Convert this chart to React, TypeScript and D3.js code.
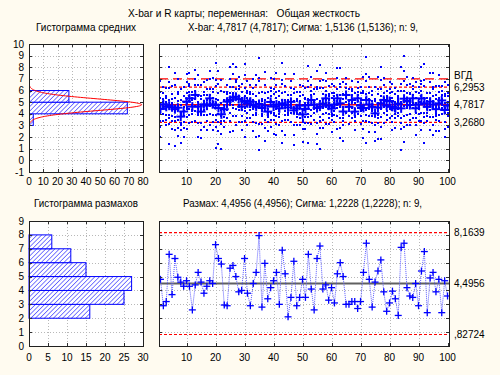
import React from "react";
import * as d3 from "d3";

// ---------- texts ----------
const TITLE = "X-bar и R карты; переменная:   Общая жесткость";
const SUB_HIST_MEAN = "Гистограмма средних";
const SUB_XBAR = "X-bar: 4,7817 (4,7817); Сигма: 1,5136 (1,5136); n: 9,";
const SUB_HIST_RANGE = "Гистограмма размахов";
const SUB_RANGE = "Размах: 4,4956 (4,4956); Сигма: 1,2228 (1,2228); n: 9,";

// ---------- statistics ----------
const N_PER_SAMPLE = 9;
const XBAR = 4.7817;
const SIGMA_X = 1.5136;
const UCL_X = 6.2953;
const LCL_X = 3.268;
const SPEC_UPPER = 7.0;
const RBAR = 4.4956;
const UCL_R = 8.1639;
const LCL_R = 0.82724;

const XBAR_LABELS = [
  { v: SPEC_UPPER, t: "ВГД", dy: -3 },
  { v: UCL_X, t: "6,2953", dy: 0.5 },
  { v: XBAR, t: "4,7817", dy: 0 },
  { v: LCL_X, t: "3,2680", dy: 0 },
];
const R_LABELS = [
  { v: UCL_R, t: "8,1639" },
  { v: RBAR, t: "4,4956" },
  { v: LCL_R, t: ",82724" },
];

// ---------- histogram of means ----------
const MEAN_BIN_START = [3, 4, 5];
const MEAN_BIN_COUNT = [3, 69, 28];
// ---------- histogram of ranges ----------
const RANGE_BIN_START = [2, 3, 4, 5, 6, 7];
const RANGE_BIN_COUNT = [16, 25, 27, 15, 11, 6];

// ---------- sample means (100 samples) ----------
const MEANS = [
  4.42, 4.82, 4.6, 4.7, 4.56, 4.4, 4.53, 3.76, 4.2, 5.05,
  5.33, 4.62, 5.62, 4.62, 4.19, 4.82, 4.7, 5.33, 4.82, 4.75,
  4.5, 3.96, 4.4, 5.05, 5.19, 5.39, 5.47, 5.27, 4.62, 5.1,
  4.9, 5.05, 4.76, 4.6, 4.85, 4.5, 4.7, 4.19, 5.02, 4.62,
  4.8, 4.47, 4.9, 4.76, 4.55, 5.03, 4.3, 4.47, 4.7, 3.95,
  4.42, 4.75, 5.19, 4.8, 4.5, 4.62, 4.85, 5.33, 4.7, 4.45,
  4.8, 5.33, 4.9, 4.2, 5.62, 4.6, 5.19, 4.19, 5.33, 4.7,
  4.5, 5.19, 4.8, 4.6, 4.04, 4.53, 4.9, 5.19, 4.7, 5.1,
  4.6, 4.47, 4.85, 4.47, 5.3, 5.1, 4.75, 5.33, 4.47, 4.8,
  5.33, 4.9, 4.6, 5.05, 4.8, 4.4, 4.9, 5.15, 4.33, 4.7,
];

// ---------- sample ranges (100 samples) ----------
const RANGES = [
  4.8, 2.9, 3.2, 6.6, 3.7, 6.3, 4.95, 4.6, 4.3, 4.7,
  4.3, 2.6, 4.4, 5.3, 4.6, 3.8, 4.3, 4.7, 4.5, 7.3,
  6.3, 5.9, 2.95, 2.9, 5.6, 5.8, 5.0, 3.9, 4.0, 6.3,
  3.8, 2.9, 4.5, 5.3, 7.95, 2.8, 5.95, 3.4, 4.2, 4.7,
  5.3, 3.0, 6.9, 5.2, 2.1, 3.5, 6.1, 2.9, 3.5, 4.8,
  3.5, 6.6, 4.1, 2.6, 6.3, 7.2, 4.1, 4.4, 3.3, 4.2,
  3.1, 5.2, 6.0, 5.0, 3.0, 3.0, 3.2, 3.2, 2.7, 3.2,
  5.3, 7.4, 4.8, 2.8, 4.6, 5.4, 6.2, 3.9, 2.5, 3.1,
  3.95, 3.4, 2.2, 7.1, 7.4, 4.2, 3.6, 3.5, 4.5, 2.9,
  5.4, 6.8, 2.4, 4.9, 5.3, 3.9, 4.8, 2.4, 4.7, 3.6,
];

// ---------- individual observations, 9 per sample ----------
const OBS = [
  "2.0 6.8 2.9 3.4 4.0 4.4 4.9 5.4 5.9",
  "3.4 6.3 4.0 4.4 4.6 4.8 5.0 5.3 5.8",
  "3.0 6.2 3.5 3.9 4.4 4.7 5.0 5.4 5.5",
  "1.4 8.0 3.1 3.6 3.9 4.8 5.2 6.2 6.7",
  "2.7 6.4 3.4 3.8 4.3 4.6 4.9 5.3 5.7",
  "1.2 7.5 2.6 3.4 3.7 4.2 4.7 5.4 6.5",
  "2.1 7.0 2.8 3.5 4.3 4.7 5.1 5.7 5.9",
  "1.5 6.1 2.6 3.0 3.2 3.9 4.1 4.8 5.2",
  "2.0 6.3 2.8 3.3 3.8 4.2 4.6 5.0 5.5",
  "2.7 7.4 3.7 4.4 4.6 4.9 5.3 5.8 6.7",
  "3.2 7.5 3.9 4.4 5.1 5.5 5.9 6.4 6.6",
  "3.3 5.9 4.0 4.2 4.3 4.7 4.8 5.2 5.4",
  "3.4 7.8 4.2 4.7 5.3 5.6 6.0 6.5 7.0",
  "2.0 7.3 3.2 3.9 4.1 4.5 5.0 5.5 6.5",
  "1.9 6.5 2.6 3.2 4.0 4.3 4.8 5.3 5.5",
  "2.9 6.7 3.9 4.2 4.3 4.9 5.1 5.6 5.9",
  "2.6 6.9 3.4 3.9 4.4 4.8 5.2 5.6 6.1",
  "3.0 7.7 4.0 4.7 4.9 5.2 5.6 6.1 7.0",
  "2.6 7.1 3.3 3.9 4.6 5.0 5.4 5.9 6.1",
  "1.1 8.4 2.9 3.5 3.9 4.9 5.3 6.4 6.9",
  "1.4 7.7 2.5 3.3 4.0 4.5 5.2 5.8 6.6",
  "1.0 6.9 2.3 3.1 3.4 3.8 4.3 4.9 6.0",
  "2.9 5.9 3.4 3.7 4.3 4.5 4.8 5.1 5.2",
  "3.6 6.5 4.3 4.6 4.7 5.1 5.3 5.7 5.9",
  "2.4 8.0 3.4 4.1 4.8 5.2 5.8 6.3 7.0",
  "2.5 8.3 3.8 4.5 4.8 5.2 5.8 6.3 7.4",
  "3.0 8.0 3.8 4.4 5.3 5.7 6.1 6.7 6.9",
  "3.3 7.2 4.3 4.6 4.8 5.3 5.5 6.1 6.4",
  "2.6 6.6 3.3 3.8 4.3 4.6 5.0 5.4 5.9",
  "2.0 8.3 3.4 4.2 4.5 5.0 5.5 6.2 7.3",
  "3.0 6.8 3.6 4.1 4.7 5.0 5.4 5.8 6.0",
  "3.6 6.5 4.3 4.6 4.7 5.1 5.3 5.7 5.9",
  "2.5 7.0 3.3 3.9 4.4 4.8 5.2 5.7 6.2",
  "2.0 7.3 3.2 3.9 4.1 4.5 5.0 5.5 6.5",
  "0.9 8.8 2.1 3.1 4.5 5.1 5.8 6.8 7.1",
  "3.1 5.9 3.8 4.0 4.2 4.6 4.7 5.1 5.3",
  "1.7 7.6 2.8 3.5 4.2 4.7 5.2 5.8 6.5",
  "2.5 5.9 3.3 3.7 3.9 4.1 4.4 4.7 5.4",
  "2.9 7.1 3.5 4.1 4.8 5.1 5.5 6.0 6.2",
  "2.3 7.0 3.5 3.9 4.1 4.7 5.0 5.7 6.1",
  "2.2 7.5 3.1 3.8 4.4 4.8 5.4 5.9 6.5",
  "3.0 6.0 3.7 4.0 4.2 4.4 4.7 5.0 5.5",
  "1.5 8.4 2.5 3.4 4.6 5.2 5.8 6.6 6.9",
  "2.2 7.4 3.5 3.9 4.2 4.9 5.2 5.9 6.4",
  "3.5 5.6 3.9 4.1 4.4 4.6 4.8 5.0 5.2",
  "3.3 6.8 4.1 4.5 4.7 5.0 5.3 5.6 6.2",
  "1.3 7.4 2.2 3.0 4.1 4.5 5.1 5.8 6.1",
  "3.0 5.9 3.7 4.0 4.1 4.5 4.7 5.1 5.3",
  "3.0 6.5 3.6 4.1 4.5 4.8 5.1 5.5 5.9",
  "1.6 6.4 2.7 3.3 3.5 3.9 4.3 4.8 5.6",
  "2.7 6.2 3.2 3.7 4.3 4.6 4.9 5.3 5.4",
  "1.5 8.1 3.2 3.7 4.0 4.9 5.3 6.3 6.8",
  "3.1 7.2 3.8 4.3 4.8 5.2 5.6 6.0 6.5",
  "3.5 6.1 4.1 4.4 4.5 4.7 5.0 5.2 5.7",
  "1.4 7.7 2.3 3.2 4.2 4.7 5.3 6.1 6.3",
  "1.0 8.2 2.8 3.4 3.7 4.7 5.1 6.2 6.8",
  "2.8 6.9 3.5 4.0 4.5 4.9 5.3 5.7 6.2",
  "3.1 7.5 4.1 4.6 4.9 5.2 5.6 6.0 6.8",
  "3.1 6.4 3.6 4.0 4.6 4.9 5.2 5.5 5.7",
  "2.4 6.6 3.5 3.8 4.0 4.6 4.8 5.4 5.8",
  "3.3 6.4 3.9 4.2 4.6 4.9 5.2 5.5 5.8",
  "2.7 7.9 3.8 4.5 4.8 5.1 5.6 6.1 7.1",
  "1.9 7.9 2.8 3.6 4.6 5.1 5.6 6.3 6.6",
  "1.7 6.7 3.0 3.4 3.6 4.3 4.6 5.3 5.7",
  "4.1 7.1 4.6 5.0 5.4 5.6 5.9 6.2 6.6",
  "3.1 6.1 3.8 4.2 4.3 4.5 4.8 5.1 5.6",
  "3.6 6.8 4.1 4.5 5.0 5.3 5.6 6.0 6.1",
  "2.6 5.8 3.4 3.7 3.8 4.3 4.4 4.9 5.2",
  "4.0 6.7 4.5 4.8 5.1 5.4 5.6 5.9 6.2",
  "3.1 6.3 3.8 4.2 4.4 4.6 4.9 5.2 5.8",
  "1.9 7.2 2.7 3.4 4.3 4.7 5.2 5.8 6.0",
  "1.5 8.9 3.4 3.9 4.3 5.4 5.7 6.8 7.4",
  "2.4 7.2 3.3 3.8 4.4 4.8 5.3 5.8 6.3",
  "3.2 6.0 3.8 4.2 4.3 4.5 4.8 5.1 5.6",
  "1.7 6.3 2.4 3.0 3.8 4.1 4.6 5.1 5.3",
  "1.8 7.2 3.2 3.6 3.9 4.6 4.9 5.7 6.1",
  "1.8 8.0 2.9 3.7 4.4 4.9 5.5 6.1 6.9",
  "3.2 7.1 4.1 4.6 4.8 5.0 5.4 5.8 6.5",
  "3.5 6.0 3.9 4.2 4.6 4.8 5.1 5.4 5.5",
  "3.6 6.7 4.4 4.6 4.8 5.2 5.4 5.8 6.1",
  "2.6 6.6 3.3 3.8 4.3 4.6 5.0 5.4 5.9",
  "2.8 6.2 3.6 4.0 4.2 4.4 4.7 5.0 5.7",
  "3.8 6.0 4.1 4.4 4.8 5.0 5.2 5.4 5.5",
  "0.9 8.0 2.7 3.2 3.6 4.6 5.0 6.0 6.6",
  "1.6 9.0 2.9 3.8 4.7 5.3 6.0 6.8 7.7",
  "3.0 7.2 3.9 4.5 4.7 5.0 5.4 5.8 6.5",
  "3.0 6.6 3.5 4.0 4.6 4.9 5.2 5.7 5.8",
  "3.6 7.1 4.5 4.8 4.9 5.4 5.6 6.1 6.4",
  "2.2 6.7 3.0 3.6 4.1 4.5 4.9 5.4 5.9",
  "3.4 6.3 4.0 4.4 4.6 4.8 5.0 5.3 5.8",
  "2.6 8.0 3.4 4.1 5.0 5.5 6.0 6.6 6.8",
  "1.5 8.3 3.2 3.7 4.1 5.0 5.4 6.4 6.9",
  "3.4 5.8 3.8 4.1 4.4 4.6 4.8 5.1 5.4",
  "2.6 7.5 3.7 4.3 4.6 4.9 5.3 5.8 6.7",
  "2.2 7.5 3.0 3.7 4.6 5.0 5.5 6.1 6.3",
  "2.5 6.4 3.5 3.8 4.0 4.5 4.7 5.3 5.6",
  "2.5 7.3 3.4 3.9 4.5 4.9 5.4 5.9 6.4",
  "4.0 6.4 4.5 4.8 5.0 5.1 5.3 5.6 6.0",
  "2.0 6.7 2.7 3.3 4.1 4.5 4.9 5.5 5.7",
  "2.9 6.5 3.8 4.1 4.3 4.8 5.0 5.5 5.8",
];

// ---------- ticks ----------
const Y_TOP_TICKS = [-1, 0, 1, 2, 3, 4, 5, 6, 7, 8, 9, 10];
const X_HIST_TOP_TICKS = [0, 10, 20, 30, 40, 50, 60, 70, 80];
const X_SAMPLE_TICKS = [10, 20, 30, 40, 50, 60, 70, 80, 90, 100];
const Y_BOT_TICKS = [0, 1, 2, 3, 4, 5, 6, 7, 8, 9];
const X_HIST_BOT_TICKS = [0, 5, 10, 15, 20, 25, 30];

const FONT = "'Liberation Sans', Arial, sans-serif";
const BG = "#FFFBF0";
const BLUE = "#0000FF";
const RED = "#FF0000";
const GRID = "#b8b8b8";

type Panel = { x0: number; x1: number; y0: number; y1: number };
const TL: Panel = { x0: 29, x1: 143, y0: 44, y1: 172 };
const TR: Panel = { x0: 159, x1: 449, y0: 44, y1: 172 };
const BL: Panel = { x0: 29, x1: 143, y0: 221, y1: 346 };
const BR: Panel = { x0: 159, x1: 449, y0: 221, y1: 346 };

function Frame({ p }: { p: Panel }) {
  return (
    <rect x={p.x0 + 0.5} y={p.y0 + 0.5} width={p.x1 - p.x0} height={p.y1 - p.y0}
      fill="none" stroke="#202020" strokeWidth={1} />
  );
}

function Grid({ p, xs, ys }: { p: Panel; xs: number[]; ys: number[] }) {
  return (
    <g stroke={GRID} strokeWidth={1} strokeDasharray="1,2">
      {xs.map((x, i) => (
        <line key={"gx" + i} x1={Math.round(x) + 0.5} x2={Math.round(x) + 0.5} y1={p.y0} y2={p.y1} />
      ))}
      {ys.map((y, i) => (
        <line key={"gy" + i} x1={p.x0} x2={p.x1} y1={Math.round(y) + 0.5} y2={Math.round(y) + 0.5} />
      ))}
    </g>
  );
}

function Ticks({ p, xs, ys }: { p: Panel; xs: number[]; ys: number[] }) {
  const L = 3;
  return (
    <g stroke="#303030" strokeWidth={1}>
      {xs.map((x, i) => (
        <g key={"tx" + i}>
          <line x1={Math.round(x) + 0.5} x2={Math.round(x) + 0.5} y1={p.y1} y2={p.y1 - L} />
          <line x1={Math.round(x) + 0.5} x2={Math.round(x) + 0.5} y1={p.y0} y2={p.y0 + L} />
        </g>
      ))}
      {ys.map((y, i) => (
        <g key={"ty" + i}>
          <line x1={p.x0} x2={p.x0 + L} y1={Math.round(y) + 0.5} y2={Math.round(y) + 0.5} />
          <line x1={p.x1} x2={p.x1 - L} y1={Math.round(y) + 0.5} y2={Math.round(y) + 0.5} />
        </g>
      ))}
    </g>
  );
}

export default function App() {
  const yTop = d3.scaleLinear().domain([-1, 10]).range([TL.y1, TL.y0]);
  const yBot = d3.scaleLinear().domain([0, 9]).range([BL.y1, BL.y0]);
  const xHistTop = d3.scaleLinear().domain([0, 80]).range([TL.x0, TL.x1]);
  const xHistBot = d3.scaleLinear().domain([0, 30]).range([BL.x0, BL.x1]);
  const xSample = d3.scaleLinear().domain([0.5, 100.5]).range([TR.x0, TR.x1]);

  const obs = OBS.map((s) => s.split(" ").map(Number));

  // fitted normal curve on histogram of means (bin width 1, 100 samples)
  const sigmaMean = SIGMA_X / Math.sqrt(N_PER_SAMPLE);
  const nSamples = MEANS.length;
  const curvePts: [number, number][] = d3
    .range(-3.2, 3.2001, 0.05)
    .map((z) => {
      const v = XBAR + z * sigmaMean;
      const dens = (nSamples * 1) / (sigmaMean * Math.sqrt(2 * Math.PI)) * Math.exp(-0.5 * z * z);
      return [xHistTop(dens), yTop(v)];
    });
  const curve = d3.line().curve(d3.curveBasis)(curvePts) || "";

  const rangeLine = d3
    .line<number>()
    .x((_, i) => xSample(i + 1))
    .y((d) => yBot(d))(RANGES) || "";

  const txt = { fontFamily: FONT, fill: "#000" } as const;

  return (
    <div style={{ position: "absolute", left: 0, top: 0, width: 500, height: 375, background: BG }}>
      <svg width={500} height={375} style={{ display: "block" }}>
        <defs>
          <pattern id="hatch" width="3.2" height="3.2" patternUnits="userSpaceOnUse" patternTransform="rotate(45)">
            <rect width="3.2" height="3.2" fill="#ffffff" />
            <line x1="0" y1="0" x2="0" y2="3.2" stroke="#3a3aff" strokeWidth="1.3" />
          </pattern>
          <clipPath id="clipTR"><rect x={TR.x0} y={TR.y0} width={TR.x1 - TR.x0 + 1} height={TR.y1 - TR.y0 + 1} /></clipPath>
          <clipPath id="clipBR"><rect x={BR.x0} y={BR.y0} width={BR.x1 - BR.x0 + 1} height={BR.y1 - BR.y0 + 1} /></clipPath>
          <clipPath id="clipTL"><rect x={TL.x0} y={TL.y0} width={TL.x1 - TL.x0 + 1} height={TL.y1 - TL.y0 + 1} /></clipPath>
        </defs>
        <rect width={500} height={375} fill={BG} />

        {/* titles */}
        <text x={128} y={17} fontSize={10.5} textLength={232} lengthAdjust="spacingAndGlyphs" style={{ whiteSpace: "pre" }} {...txt}>{TITLE}</text>
        <text x={36} y={31} fontSize={10.5} textLength={100} lengthAdjust="spacingAndGlyphs" {...txt}>{SUB_HIST_MEAN}</text>
        <text x={188} y={31} fontSize={10.5} textLength={230} lengthAdjust="spacingAndGlyphs" {...txt}>{SUB_XBAR}</text>
        <text x={34} y={207} fontSize={10.5} textLength={104} lengthAdjust="spacingAndGlyphs" {...txt}>{SUB_HIST_RANGE}</text>
        <text x={183} y={207} fontSize={10.5} textLength={239} lengthAdjust="spacingAndGlyphs" {...txt}>{SUB_RANGE}</text>

        {/* ===== top-left: histogram of means ===== */}
        <rect x={TL.x0} y={TL.y0} width={TL.x1 - TL.x0} height={TL.y1 - TL.y0} fill="#fff" />
        <Grid p={TL} xs={X_HIST_TOP_TICKS.slice(1, -1).map(xHistTop)} ys={Y_TOP_TICKS.slice(1, -1).map(yTop)} />
        <g clipPath="url(#clipTL)">
          {MEAN_BIN_START.map((b, i) => (
            <rect key={i} x={xHistTop(0)} y={yTop(b + 1)} width={xHistTop(MEAN_BIN_COUNT[i]) - xHistTop(0)}
              height={yTop(b) - yTop(b + 1)} fill="url(#hatch)" stroke={BLUE} strokeWidth={1} />
          ))}
          <path d={curve} fill="none" stroke={RED} strokeWidth={1} />
        </g>
        <Ticks p={TL} xs={X_HIST_TOP_TICKS.map(xHistTop)} ys={Y_TOP_TICKS.map(yTop)} />
        <Frame p={TL} />
        {Y_TOP_TICKS.map((t) => (
          <text key={"yl" + t} x={24} y={yTop(t) + 3.5} textAnchor="end" fontSize={10} {...txt}>{t}</text>
        ))}
        {X_HIST_TOP_TICKS.map((t) => (
          <text key={"xl" + t} x={xHistTop(t)} y={185} textAnchor="middle" fontSize={10} {...txt}>{t}</text>
        ))}

        {/* ===== top-right: X-bar chart ===== */}
        <rect x={TR.x0} y={TR.y0} width={TR.x1 - TR.x0} height={TR.y1 - TR.y0} fill="#fff" />
        <Grid p={TR} xs={X_SAMPLE_TICKS.slice(0, -1).map(xSample)} ys={Y_TOP_TICKS.slice(1, -1).map(yTop)} />
        <g clipPath="url(#clipTR)">
          <line x1={TR.x0} x2={TR.x1} y1={yTop(SPEC_UPPER)} y2={yTop(SPEC_UPPER)} stroke={RED} strokeWidth={1.2} strokeDasharray="9,5" />
          <line x1={TR.x0} x2={TR.x1} y1={yTop(UCL_X)} y2={yTop(UCL_X)} stroke={RED} strokeWidth={1.2} strokeDasharray="3,2" />
          <line x1={TR.x0} x2={TR.x1} y1={yTop(LCL_X)} y2={yTop(LCL_X)} stroke={RED} strokeWidth={1.2} strokeDasharray="3,2" />
          <line x1={TR.x0} x2={TR.x1} y1={yTop(XBAR)} y2={yTop(XBAR)} stroke={RED} strokeWidth={1.5} />
          {obs.map((row, i) =>
            row.map((v, j) => (
              <rect key={i + "-" + j} x={Math.round(xSample(i + 1)) - 1} y={Math.round(yTop(v)) - 1}
                width={2} height={2} fill={BLUE} />
            ))
          )}
          {MEANS.map((m, i) => {
            const cx = xSample(i + 1);
            const cy = yTop(m);
            return (
              <g key={"m" + i} stroke={BLUE} strokeWidth={2}>
                <line x1={cx - 4.5} x2={cx + 4.5} y1={cy} y2={cy} />
                <line x1={cx} x2={cx} y1={cy - 4.5} y2={cy + 4.5} />
              </g>
            );
          })}
        </g>
        <Ticks p={TR} xs={X_SAMPLE_TICKS.map(xSample)} ys={Y_TOP_TICKS.map(yTop)} />
        <Frame p={TR} />
        {X_SAMPLE_TICKS.map((t) => (
          <text key={"sx" + t} x={xSample(t)} y={185} textAnchor="middle" fontSize={10} {...txt}>{t}</text>
        ))}
        {XBAR_LABELS.map((l) => (
          <text key={l.t} x={454} y={yTop(l.v) + 3.5 + l.dy} fontSize={10} {...txt}>{l.t}</text>
        ))}

        {/* ===== bottom-left: histogram of ranges ===== */}
        <rect x={BL.x0} y={BL.y0} width={BL.x1 - BL.x0} height={BL.y1 - BL.y0} fill="#fff" />
        <Grid p={BL} xs={X_HIST_BOT_TICKS.slice(1, -1).map(xHistBot)} ys={Y_BOT_TICKS.slice(1, -1).map(yBot)} />
        {RANGE_BIN_START.map((b, i) => (
          <rect key={i} x={xHistBot(0)} y={yBot(b + 1)} width={xHistBot(RANGE_BIN_COUNT[i]) - xHistBot(0)}
            height={yBot(b) - yBot(b + 1)} fill="url(#hatch)" stroke={BLUE} strokeWidth={1} />
        ))}
        <Ticks p={BL} xs={X_HIST_BOT_TICKS.map(xHistBot)} ys={Y_BOT_TICKS.map(yBot)} />
        <Frame p={BL} />
        {Y_BOT_TICKS.map((t) => (
          <text key={"byl" + t} x={24} y={yBot(t) + 3.5} textAnchor="end" fontSize={10} {...txt}>{t}</text>
        ))}
        {X_HIST_BOT_TICKS.map((t) => (
          <text key={"bxl" + t} x={xHistBot(t)} y={361} textAnchor="middle" fontSize={10} {...txt}>{t}</text>
        ))}

        {/* ===== bottom-right: R chart ===== */}
        <rect x={BR.x0} y={BR.y0} width={BR.x1 - BR.x0} height={BR.y1 - BR.y0} fill="#fff" />
        <Grid p={BR} xs={X_SAMPLE_TICKS.slice(0, -1).map(xSample)} ys={Y_BOT_TICKS.slice(1, -1).map(yBot)} />
        <g clipPath="url(#clipBR)">
          <line x1={BR.x0} x2={BR.x1} y1={yBot(UCL_R)} y2={yBot(UCL_R)} stroke={RED} strokeWidth={1.2} strokeDasharray="3,2" />
          <line x1={BR.x0} x2={BR.x1} y1={yBot(LCL_R)} y2={yBot(LCL_R)} stroke={RED} strokeWidth={1.2} strokeDasharray="3,2" />
          <line x1={BR.x0} x2={BR.x1} y1={yBot(RBAR)} y2={yBot(RBAR)} stroke="#606060" strokeWidth={2} />
          <path d={rangeLine} fill="none" stroke="#5a5aff" strokeWidth={1} strokeDasharray="1,1" />
          {RANGES.map((r, i) => {
            const cx = xSample(i + 1);
            const cy = yBot(r);
            return (
              <g key={"r" + i} stroke={BLUE} strokeWidth={1.3}>
                <line x1={cx - 3.5} x2={cx + 3.5} y1={cy} y2={cy} />
                <line x1={cx} x2={cx} y1={cy - 3.5} y2={cy + 3.5} />
              </g>
            );
          })}
        </g>
        <Ticks p={BR} xs={X_SAMPLE_TICKS.map(xSample)} ys={Y_BOT_TICKS.map(yBot)} />
        <Frame p={BR} />
        {X_SAMPLE_TICKS.map((t) => (
          <text key={"bsx" + t} x={xSample(t)} y={361} textAnchor="middle" fontSize={10} {...txt}>{t}</text>
        ))}
        {R_LABELS.map((l) => (
          <text key={l.t} x={454} y={yBot(l.v) + 3.5} fontSize={10} {...txt}>{l.t}</text>
        ))}
      </svg>
    </div>
  );
}
